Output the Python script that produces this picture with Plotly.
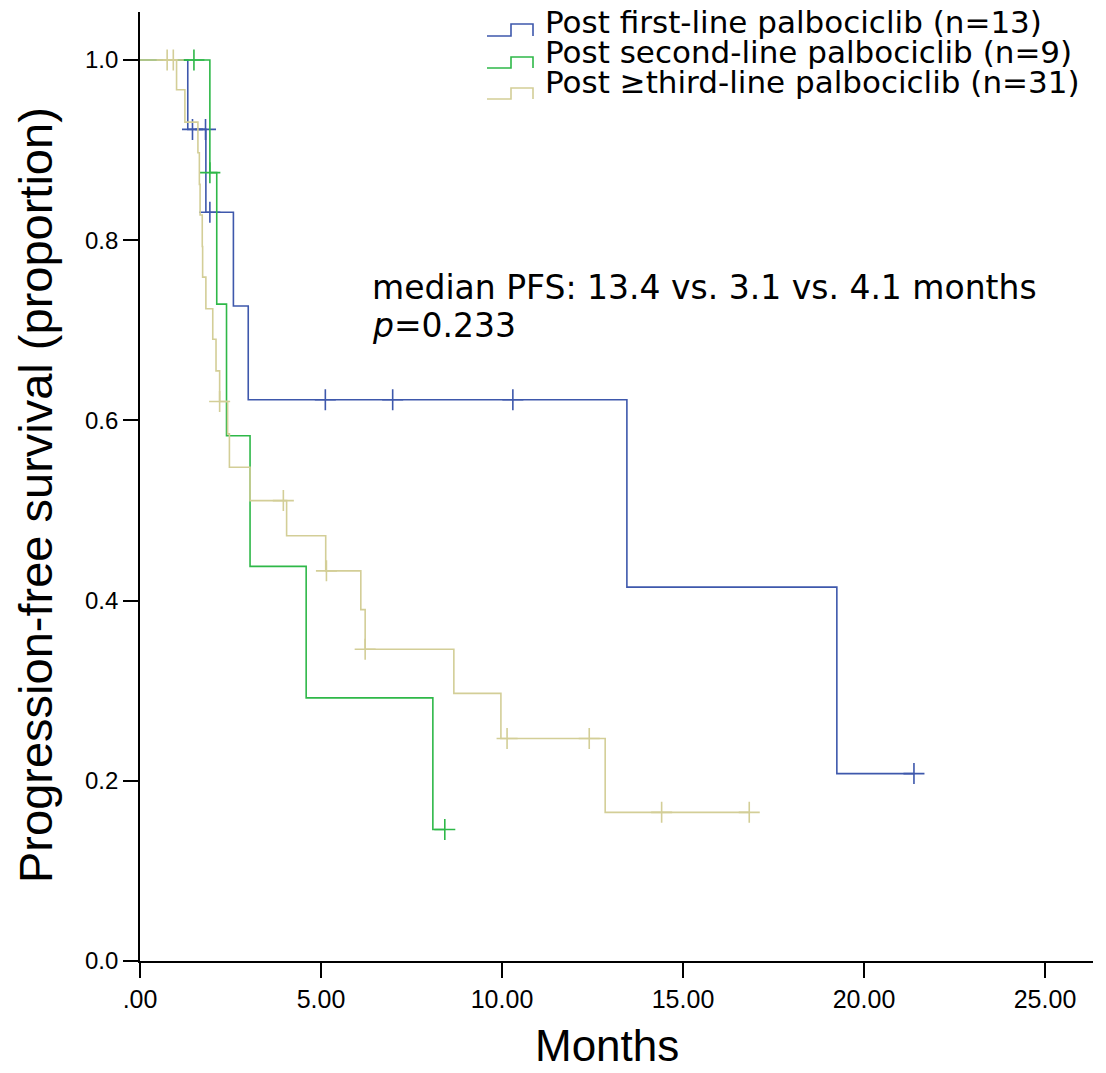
import plotly.graph_objects as go

# ---------------- data ----------------
# Post first-line palbociclib (n=13)
first_event_times = [1.32, 1.82, 2.58, 2.99, 13.45, 19.25]
first_levels      = [0.923, 0.831, 0.727, 0.623, 0.415, 0.208]
first_censor      = [1.45, 1.81, 1.93, 5.12, 6.98, 10.30, 21.38]

# Post second-line palbociclib (n=9)
second_event_times = [1.93, 2.12, 2.39, 3.04, 4.59, 8.09]
second_levels      = [0.875, 0.729, 0.583, 0.438, 0.292, 0.146]
second_censor      = [1.49, 1.93, 8.42]

# Post >=third-line palbociclib (n=31)
third_event_times = [1.01, 1.24, 1.60, 1.64, 1.66, 1.72, 1.73, 1.82, 2.01, 2.10, 2.20,
                     2.42, 2.47, 3.04, 4.05, 5.13, 6.10, 6.22, 8.67, 9.97, 12.85]
third_levels      = [0.967, 0.931, 0.897, 0.862, 0.828, 0.793, 0.759, 0.724, 0.690, 0.655, 0.621,
                     0.585, 0.548, 0.511, 0.472, 0.433, 0.390, 0.346, 0.297, 0.247, 0.165]
third_censor      = [0.75, 0.92, 2.20, 3.96, 5.15, 6.22, 10.14, 12.41, 14.41, 16.83]

series_names = ["Post first-line palbociclib (n=13)",
                "Post second-line palbociclib (n=9)",
                "Post \u2265third-line palbociclib (n=31)"]
series_colors = ["#3E58AC", "#2EB848", "#D3CE97"]

x_tick_values = [0, 5, 10, 15, 20, 25]
x_tick_labels = [".00", "5.00", "10.00", "15.00", "20.00", "25.00"]
y_tick_values = [0.0, 0.2, 0.4, 0.6, 0.8, 1.0]
y_tick_labels = ["0.0", "0.2", "0.4", "0.6", "0.8", "1.0"]

annotation_line1 = "median PFS: 13.4 vs. 3.1 vs. 4.1 months"
annotation_line2 = "<i>p</i>=0.233"
x_title = "Months"
y_title = "Progression-free survival (proportion)"

# ---------------- figure ----------------
W, H = 1106, 1073
L, R, T, B = 140, 1093, 12, 961   # plot-area pixel box


def paper(xp, yp):
    return (xp - L) / (R - L), (B - yp) / (B - T)


def level_at(times, levels, t):
    s = 1.0
    for et, lv in zip(times, levels):
        if et <= t + 1e-9:
            s = lv
    return s


FONT = "Liberation Sans, Arial, sans-serif"
WIDE = "DejaVu Sans, sans-serif"
fig = go.Figure()

groups = [
    (first_event_times, first_levels, first_censor),
    (second_event_times, second_levels, second_censor),
    (third_event_times, third_levels, third_censor),
]

for (times, levels, cens), name, col in zip(groups, series_names, series_colors):
    last_t = max(max(times), max(cens))
    xs = [0.0] + list(times) + [last_t]
    ys = [1.0] + list(levels) + [levels[-1]]
    fig.add_trace(go.Scatter(x=xs, y=ys, mode="lines", line=dict(color=col, width=1.6, shape="hv"),
                             name=name, showlegend=False, hoverinfo="skip"))
    fig.add_trace(go.Scatter(x=cens, y=[level_at(times, levels, c) for c in cens], mode="markers",
                             marker=dict(symbol="cross-thin", size=15, line=dict(color=col, width=1.6)),
                             showlegend=False, hoverinfo="skip"))

# custom legend (step-shaped icons like the reference)
legend_rows = [(22, 36, 24), (52, 68, 57), (82, 99, 88)]  # text centre, icon low, icon high (px)
for (tc, lo, hi), name, col in zip(legend_rows, series_names, series_colors):
    x0, _ = paper(487, 0)
    x1, _ = paper(511, 0)
    x2, _ = paper(533, 0)
    _, ylo = paper(0, lo)
    _, yhi = paper(0, hi)
    fig.add_shape(type="path", xref="paper", yref="paper",
                  path=f"M {x0},{ylo} L {x1},{ylo} L {x1},{yhi} L {x2},{yhi} L {x2},{ylo}",
                  line=dict(color=col, width=1.6))
    tx, ty = paper(543, tc)
    fig.add_annotation(x=tx, y=ty, xref="paper", yref="paper", text=name, showarrow=False,
                       xanchor="left", yanchor="middle", font=dict(size=31, color="black", family=WIDE))

# median / p annotation
ax, ay = paper(370, 287)
fig.add_annotation(x=ax, y=ay, xref="paper", yref="paper", text=annotation_line1, showarrow=False,
                   xanchor="left", yanchor="middle", font=dict(size=33, color="black", family=WIDE))
ax, ay = paper(370, 326)
fig.add_annotation(x=ax, y=ay, xref="paper", yref="paper", text=annotation_line2, showarrow=False,
                   xanchor="left", yanchor="middle", font=dict(size=33, color="black", family=WIDE))

# axis titles
tx, ty = paper(607, 1045)
fig.add_annotation(x=tx, y=ty, xref="paper", yref="paper", text=x_title, showarrow=False,
                   xanchor="center", yanchor="middle", font=dict(size=44, color="black", family=FONT))
tx, ty = paper(35, 495)
fig.add_annotation(x=tx, y=ty, xref="paper", yref="paper", text=y_title, showarrow=False, textangle=-90,
                   xanchor="center", yanchor="middle", font=dict(size=47, color="black", family=FONT))

x_max = (R - L) / 36.2
y_max = (B - T) / 901.0

fig.update_layout(
    width=W, height=H,
    margin=dict(l=L, r=W - R, t=T, b=H - B, pad=0),
    paper_bgcolor="white", plot_bgcolor="white",
    showlegend=False,
    font=dict(family=FONT, color="black"),
    xaxis=dict(range=[0, x_max], tickvals=x_tick_values, ticktext=x_tick_labels,
               showgrid=False, zeroline=False, showline=True, linecolor="black", linewidth=1.6,
               ticks="outside", ticklen=15, tickwidth=1.6, tickcolor="black",
               tickfont=dict(size=25, color="black", family=FONT)),
    yaxis=dict(range=[0, y_max], tickvals=y_tick_values, ticktext=y_tick_labels,
               showgrid=False, zeroline=False, showline=True, linecolor="black", linewidth=1.6,
               ticks="outside", ticklen=15, tickwidth=1.6, tickcolor="black",
               tickfont=dict(size=24, color="black", family=FONT)),
)

fig.write_html("out.html", config={"displayModeBar": False},
               post_script="document.body.style.margin='0';document.body.style.overflow='hidden';")
